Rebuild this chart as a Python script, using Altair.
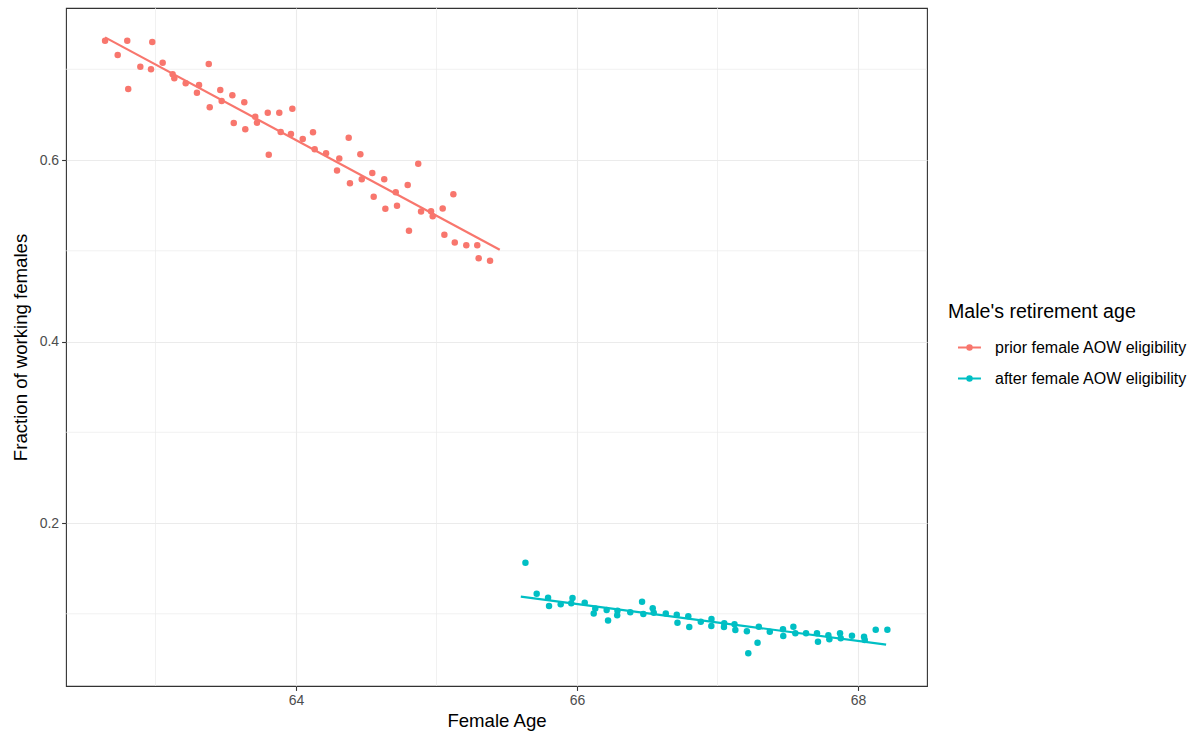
import altair as alt
import pandas as pd

# ---- data ----
prior_age = [62.641, 62.731, 62.799, 62.806, 62.892, 62.977, 62.968, 63.051, 63.122, 63.134,
             63.215, 63.295, 63.310, 63.379, 63.386, 63.461, 63.471, 63.547, 63.557, 63.632,
             63.639, 63.710, 63.722, 63.799, 63.806, 63.881, 63.891, 63.974, 63.964, 64.048,
             64.121, 64.133, 64.214, 64.308, 64.292, 64.375, 64.384, 64.458, 64.468, 64.543,
             64.553, 64.628, 64.636, 64.710, 64.719, 64.795, 64.804, 64.870, 64.890, 64.961,
             64.973, 65.044, 65.056, 65.120, 65.130, 65.212, 65.290, 65.300, 65.381]
prior_frac = [0.7315, 0.7157, 0.7315, 0.6782, 0.7028, 0.7300, 0.6999, 0.7072, 0.6944, 0.6900,
              0.6845, 0.6742, 0.6826, 0.7058, 0.6581, 0.6771, 0.6650, 0.6713, 0.6408, 0.6636,
              0.6338, 0.6477, 0.6411, 0.6521, 0.6058, 0.6521, 0.6309, 0.6565, 0.6287, 0.6231,
              0.6305, 0.6118, 0.6074, 0.6017, 0.5884, 0.6246, 0.5743, 0.6063, 0.5787, 0.5857,
              0.5596, 0.5787, 0.5463, 0.5644, 0.5496, 0.5725, 0.5221, 0.5959, 0.5433, 0.5435,
              0.5380, 0.5466, 0.5176, 0.5623, 0.5091, 0.5061, 0.5060, 0.4917, 0.4890]

after_age = [65.633, 65.713, 65.794, 65.801, 65.884, 65.968, 65.959, 66.055, 66.119, 66.130,
             66.211, 66.221, 66.288, 66.286, 66.379, 66.463, 66.472, 66.539, 66.546, 66.632,
             66.710, 66.715, 66.792, 66.799, 66.881, 66.957, 66.956, 67.048, 67.046, 67.121,
             67.127, 67.209, 67.219, 67.285, 67.294, 67.372, 67.466, 67.468, 67.540, 67.554,
             67.630, 67.708, 67.715, 67.789, 67.796, 67.872, 67.877, 67.957, 68.043, 68.048,
             68.126, 68.209]
after_frac = [0.1563, 0.1221, 0.1177, 0.1085, 0.1104, 0.1174, 0.1115, 0.1122, 0.1003, 0.1058,
              0.1041, 0.0926, 0.1034, 0.0983, 0.1016, 0.1133, 0.0997, 0.1060, 0.1011, 0.1003,
              0.0988, 0.0900, 0.0972, 0.0854, 0.0912, 0.0942, 0.0865, 0.0895, 0.0854, 0.0884,
              0.0821, 0.0808, 0.0565, 0.0681, 0.0857, 0.0801, 0.0829, 0.0755, 0.0857, 0.0785,
              0.0785, 0.0785, 0.0692, 0.0763, 0.0718, 0.0785, 0.0729, 0.0758, 0.0747, 0.0711,
              0.0824, 0.0824]

groups = ["prior female AOW eligibility", "after female AOW eligibility"]
colors = ["#F8766D", "#00BFC4"]

x_major = [64, 66, 68]
x_minor = [63, 65, 67]
y_major = [0.2, 0.4, 0.6]
y_minor = [0.1, 0.3, 0.5, 0.7]
x_domain = [62.363, 68.491]
y_domain = [0.0204, 0.7675]
prior_fit_extent = [62.641, 65.45]
after_fit_extent = [65.60, 68.20]

# ---- tables ----
df = pd.DataFrame({
    "age": prior_age + after_age,
    "frac": prior_frac + after_frac,
    "group": [groups[0]] * len(prior_age) + [groups[1]] * len(after_age),
})

FONT = "Liberation Sans"
xscale = alt.Scale(domain=x_domain, nice=False, zero=False)
yscale = alt.Scale(domain=y_domain, nice=False, zero=False)
cscale = alt.Scale(domain=groups, range=colors)

x_axis = alt.Axis(values=x_major, title="Female Age", grid=True,
                  labelPadding=3, titlePadding=4)
y_axis = alt.Axis(values=y_major, title="Fraction of working females", grid=True,
                  format=".1f", labelPadding=3, titlePadding=9)

legend_path = ("M-0.4,0L1.13,0"
               "M0.217,0A0.15,0.15,0,1,0,0.517,0A0.15,0.15,0,1,0,0.217,0"
               "M0.317,0A0.05,0.05,0,1,0,0.417,0A0.05,0.05,0,1,0,0.317,0")

legend = alt.Legend(title="Male's retirement age", orient="none",
                    legendX=882, legendY=295, symbolType=legend_path,
                    symbolSize=900, symbolStrokeWidth=2, labelOffset=15,
                    rowPadding=7, titlePadding=9, labelLimit=400, titleLimit=400)

color_enc = alt.Color("group:N", scale=cscale, legend=legend, sort=groups)

minor_x = alt.Chart(pd.DataFrame({"age": x_minor})).mark_rule(
    color="#EBEBEB", strokeWidth=0.7).encode(x=alt.X("age:Q", scale=xscale, axis=x_axis))
minor_y = alt.Chart(pd.DataFrame({"frac": y_minor})).mark_rule(
    color="#EBEBEB", strokeWidth=0.7).encode(y=alt.Y("frac:Q", scale=yscale, axis=y_axis))

points = alt.Chart(df).mark_circle(size=42, opacity=1).encode(
    x=alt.X("age:Q", scale=xscale, axis=x_axis),
    y=alt.Y("frac:Q", scale=yscale, axis=y_axis),
    color=color_enc,
)

def fit_line(group, extent):
    return alt.Chart(df).transform_filter(
        alt.datum.group == group
    ).transform_regression("age", "frac", groupby=["group"], extent=extent
    ).mark_line(strokeWidth=2.2).encode(
        x=alt.X("age:Q", scale=xscale, axis=x_axis),
        y=alt.Y("frac:Q", scale=yscale, axis=y_axis),
        color=color_enc,
    )

line_prior = fit_line(groups[0], prior_fit_extent)
line_after = fit_line(groups[1], after_fit_extent)

chart = alt.layer(minor_x, minor_y, points, line_prior, line_after).properties(
    width=861, height=678,
    autosize=alt.AutoSizeParams(type="none"),
    padding={"left": 66, "top": 8, "right": 266, "bottom": 52},
    background="white",
).configure_view(
    stroke="#333333", strokeWidth=1.1
).configure_axis(
    labelFont=FONT, labelFontSize=14, labelColor="#4D4D4D",
    titleFont=FONT, titleFontSize=18.6, titleFontWeight="normal", titleColor="#000000",
    tickColor="#333333", tickSize=4.4, tickWidth=1.1,
    domain=False, gridColor="#EBEBEB", gridWidth=1.1,
).configure_legend(
    titleFont=FONT, titleFontSize=19.6, titleFontWeight="normal", titleColor="#000000",
    labelFont=FONT, labelFontSize=16, labelColor="#000000",
    padding=0,
)

chart.save("out.html", embed_options={"renderer": "svg", "actions": False})
